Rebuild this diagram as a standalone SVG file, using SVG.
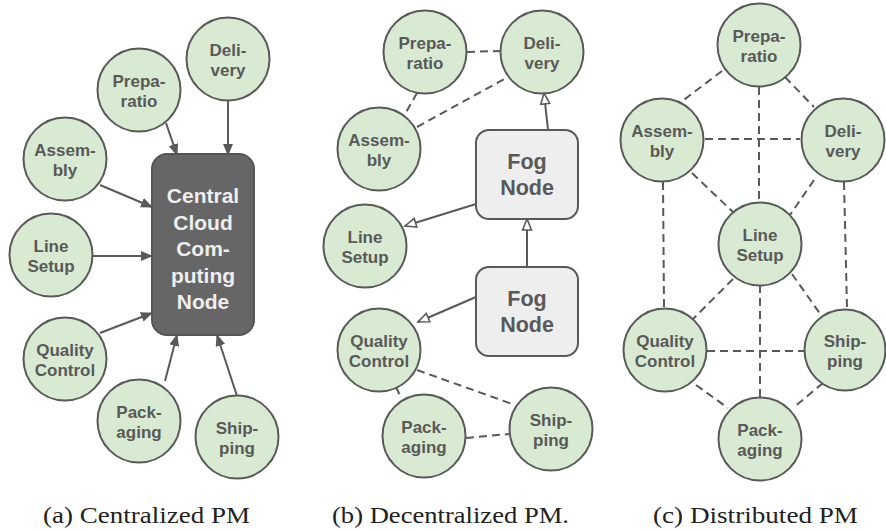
<svg xmlns="http://www.w3.org/2000/svg" width="886" height="531" viewBox="0 0 886 531">
<style>
.n circle{fill:#d9ead3;stroke:#595959;stroke-width:2}
.n text{font-family:"Liberation Sans",Arial,sans-serif;font-weight:bold;font-size:17px;fill:#595959;text-anchor:middle}
.cloud rect{fill:#666666;stroke:#555555;stroke-width:2}
.cloud text{font-family:"Liberation Sans",Arial,sans-serif;font-weight:bold;font-size:21px;fill:#eeeeee;text-anchor:middle}
.fog rect{fill:#eeeeee;stroke:#595959;stroke-width:2}
.fog text{font-family:"Liberation Sans",Arial,sans-serif;font-weight:bold;font-size:21.5px;fill:#595959;text-anchor:middle}
.e line{stroke:#595959;stroke-width:2;fill:none}
.e .d{stroke-dasharray:8,5}
.af{marker-end:url(#af)}
.ah{marker-end:url(#ah)}
.cap{font-family:"Liberation Serif","Times New Roman",serif;font-size:22.5px;fill:#222}
</style>
<defs>
<marker id="af" viewBox="0 0 12 10" refX="11" refY="5" markerWidth="12" markerHeight="10" orient="auto" markerUnits="userSpaceOnUse"><path d="M0,0 L12,5 L0,10 z" fill="#595959"/></marker>
<marker id="ah" viewBox="-1 -1 14 12" refX="11" refY="5" markerWidth="14" markerHeight="12" orient="auto" markerUnits="userSpaceOnUse"><path d="M0,0.5 L11,5 L0,9.5 z" fill="#ffffff" stroke="#595959" stroke-width="1.6"/></marker>
</defs>
<rect width="886" height="531" fill="#ffffff"/>

<g id="connectors" class="e">
<!-- panel a -->
<line class="af" x1="166" y1="123" x2="177" y2="155"/>
<line class="af" x1="228" y1="101" x2="228" y2="155"/>
<line class="af" x1="100" y1="185" x2="152" y2="207"/>
<line class="af" x1="93" y1="256" x2="152" y2="256"/>
<line class="af" x1="100" y1="333" x2="152" y2="313"/>
<line class="af" x1="165" y1="381" x2="177" y2="335"/>
<line class="af" x1="237" y1="396" x2="217" y2="335"/>
<!-- panel b -->
<line class="ah" x1="527" y1="267" x2="527" y2="219"/>
<line class="ah" x1="548" y1="130" x2="544" y2="93"/>
<line class="ah" x1="476" y1="204" x2="405" y2="226"/>
<line class="ah" x1="476" y1="297" x2="418" y2="322"/>
<line class="d" x1="467" y1="52" x2="500" y2="51"/>
<line class="d" x1="417" y1="93" x2="404" y2="116"/>
<line class="d" x1="417" y1="127" x2="508" y2="77"/>
<line class="d" x1="396" y1="387" x2="401" y2="398"/>
<line class="d" x1="417" y1="370" x2="515" y2="405"/>
<line class="d" x1="466" y1="438" x2="509" y2="434"/>
<!-- panel c -->
<line class="d" x1="722" y1="71" x2="681" y2="102"/>
<line class="d" x1="785" y1="77" x2="814" y2="107"/>
<line class="d" x1="759" y1="87" x2="759" y2="203"/>
<line class="d" x1="705" y1="139" x2="800" y2="139"/>
<line class="d" x1="692" y1="173" x2="733" y2="212"/>
<line class="d" x1="814" y1="180" x2="790" y2="215"/>
<line class="d" x1="663" y1="182" x2="664" y2="308"/>
<line class="d" x1="844" y1="182" x2="847" y2="308"/>
<line class="d" x1="733" y1="279" x2="693" y2="319"/>
<line class="d" x1="792" y1="274" x2="823" y2="318"/>
<line class="d" x1="760" y1="285" x2="760" y2="398"/>
<line class="d" x1="707" y1="351" x2="806" y2="351"/>
<line class="d" x1="696" y1="385" x2="728" y2="408"/>
<line class="d" x1="823" y1="383" x2="793" y2="408"/>
</g>

<!-- panel a nodes -->
<g id="a-cloud" class="cloud"><rect x="152" y="154" width="102" height="181" rx="15"/>
<text x="203" y="203">Central</text><text x="203" y="229.5">Cloud</text><text x="203" y="256">Com-</text><text x="203" y="282.5">puting</text><text x="203" y="309">Node</text></g>
<g id="a-prep" class="n"><circle cx="139" cy="90" r="41.5"/><text x="139" y="86.5">Prepa-</text><text x="139" y="106.5">ratio</text></g>
<g id="a-deli" class="n"><circle cx="228" cy="59" r="41.5"/><text x="228" y="55.5">Deli-</text><text x="228" y="75.5">very</text></g>
<g id="a-assem" class="n"><circle cx="65" cy="159" r="41.5"/><text x="65" y="155.5">Assem-</text><text x="65" y="175.5">bly</text></g>
<g id="a-line" class="n"><circle cx="51" cy="255" r="41.5"/><text x="51" y="251.5">Line</text><text x="51" y="271.5">Setup</text></g>
<g id="a-qc" class="n"><circle cx="65" cy="359" r="41.5"/><text x="65" y="355.5">Quality</text><text x="65" y="375.5">Control</text></g>
<g id="a-pack" class="n"><circle cx="139" cy="421" r="41.5"/><text x="139" y="417.5">Pack-</text><text x="139" y="437.5">aging</text></g>
<g id="a-ship" class="n"><circle cx="237" cy="437" r="41.5"/><text x="237" y="433.5">Ship-</text><text x="237" y="453.5">ping</text></g>

<!-- panel b nodes -->
<g id="b-fog1" class="fog"><rect x="476" y="130" width="102" height="89" rx="13"/><text x="527" y="169">Fog</text><text x="527" y="195">Node</text></g>
<g id="b-fog2" class="fog"><rect x="476" y="267" width="102" height="89" rx="13"/><text x="527" y="306">Fog</text><text x="527" y="332">Node</text></g>
<g id="b-prep" class="n"><circle cx="425" cy="52" r="41.5"/><text x="425" y="48.5">Prepa-</text><text x="425" y="68.5">ratio</text></g>
<g id="b-deli" class="n"><circle cx="542" cy="52" r="41.5"/><text x="542" y="48.5">Deli-</text><text x="542" y="68.5">very</text></g>
<g id="b-assem" class="n"><circle cx="379" cy="149" r="41.5"/><text x="379" y="145.5">Assem-</text><text x="379" y="165.5">bly</text></g>
<g id="b-line" class="n"><circle cx="365" cy="246" r="41.5"/><text x="365" y="242.5">Line</text><text x="365" y="262.5">Setup</text></g>
<g id="b-qc" class="n"><circle cx="379" cy="350" r="41.5"/><text x="379" y="346.5">Quality</text><text x="379" y="366.5">Control</text></g>
<g id="b-pack" class="n"><circle cx="424" cy="436" r="41.5"/><text x="424" y="432.5">Pack-</text><text x="424" y="452.5">aging</text></g>
<g id="b-ship" class="n"><circle cx="551" cy="429" r="41.5"/><text x="551" y="425.5">Ship-</text><text x="551" y="445.5">ping</text></g>

<!-- panel c nodes -->
<g id="c-prep" class="n"><circle cx="759" cy="45" r="41.5"/><text x="759" y="41.5">Prepa-</text><text x="759" y="61.5">ratio</text></g>
<g id="c-assem" class="n"><circle cx="662" cy="140" r="41.5"/><text x="662" y="136.5">Assem-</text><text x="662" y="156.5">bly</text></g>
<g id="c-deli" class="n"><circle cx="843" cy="140" r="41.5"/><text x="843" y="136.5">Deli-</text><text x="843" y="156.5">very</text></g>
<g id="c-line" class="n"><circle cx="760" cy="244" r="41.5"/><text x="760" y="240.5">Line</text><text x="760" y="260.5">Setup</text></g>
<g id="c-qc" class="n"><circle cx="665" cy="350" r="41.5"/><text x="665" y="346.5">Quality</text><text x="665" y="366.5">Control</text></g>
<g id="c-ship" class="n"><circle cx="845" cy="350" r="40.5"/><text x="845" y="346.5">Ship-</text><text x="845" y="366.5">ping</text></g>
<g id="c-pack" class="n"><circle cx="760" cy="439" r="41.5"/><text x="760" y="435.5">Pack-</text><text x="760" y="455.5">aging</text></g>

<g id="captions">
<text class="cap" x="43" y="523" textLength="207" lengthAdjust="spacingAndGlyphs">(a) Centralized PM</text>
<text class="cap" x="332" y="523" textLength="237" lengthAdjust="spacingAndGlyphs">(b) Decentralized PM.</text>
<text class="cap" x="653" y="523" textLength="205" lengthAdjust="spacingAndGlyphs">(c) Distributed PM</text>
</g>
</svg>
